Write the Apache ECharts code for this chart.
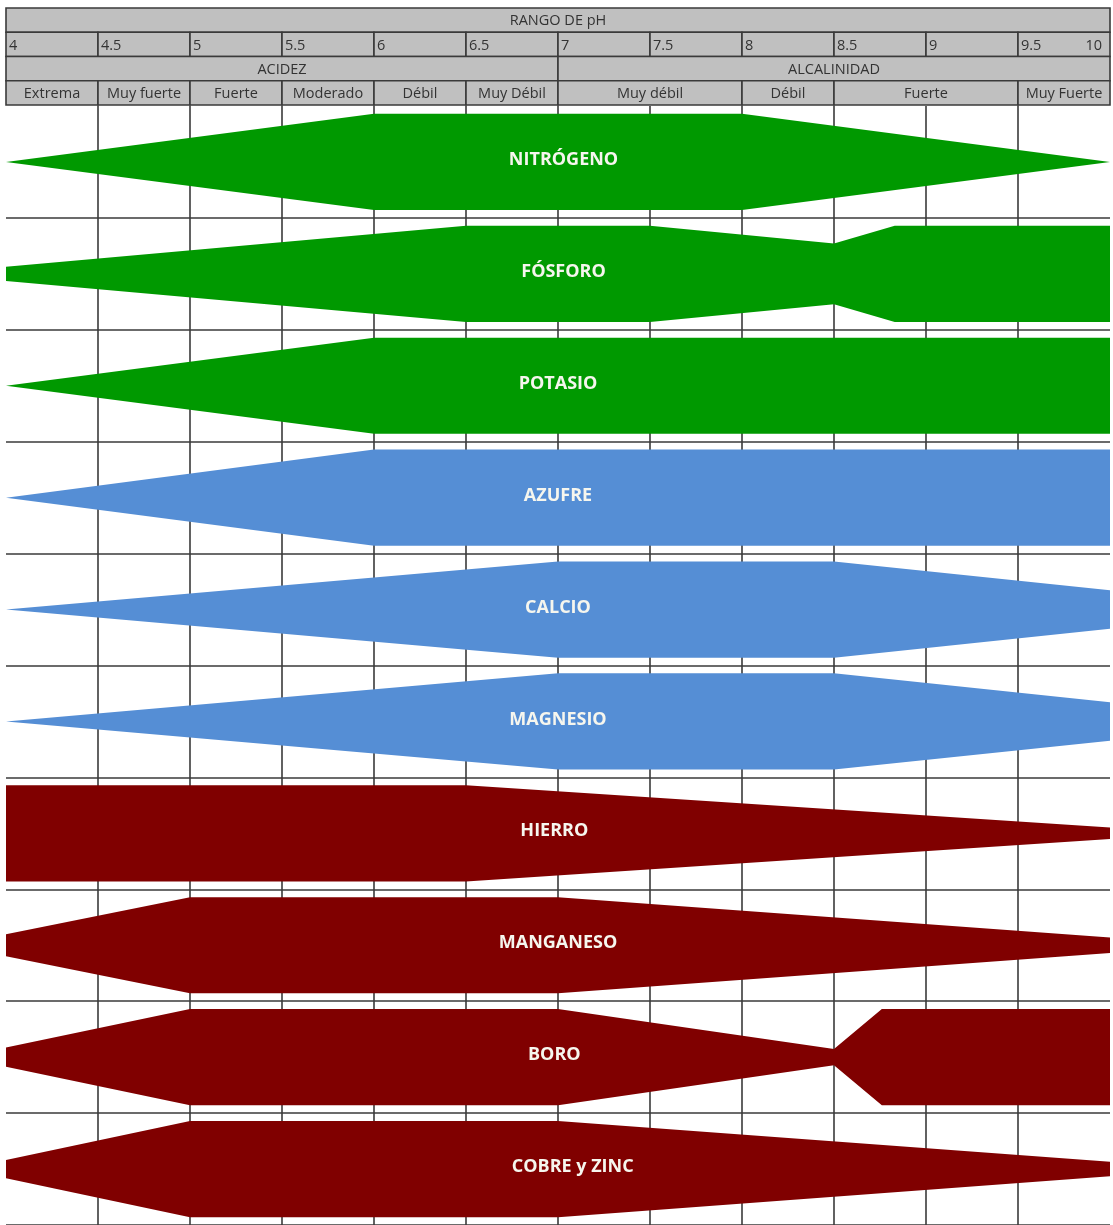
<!DOCTYPE html>
<html>
<head>
<meta charset="utf-8">
<script src="https://cdn.jsdelivr.net/npm/echarts@6/dist/echarts.min.js"></script>
<style>
  html, body { margin: 0; padding: 0; background: #ffffff; }
  #chart { width: 1113px; height: 1225px; }
</style>
</head>
<body>
<div id="chart"></div>
<script>
// ---------- Header data ----------
const headerTitle = 'RANGO DE pH';
const phLabels = ['4', '4.5', '5', '5.5', '6', '6.5', '7', '7.5', '8', '8.5', '9', '9.5'];
const phLastLabel = '10';
const zoneLabels = ['ACIDEZ', 'ALCALINIDAD'];
const zoneBounds = [4, 7, 10];
const classLabels = ['Extrema', 'Muy fuerte', 'Fuerte', 'Moderado', 'Débil', 'Muy Débil', 'Muy débil', 'Débil', 'Fuerte', 'Muy Fuerte'];
const classBounds = [4, 4.5, 5, 5.5, 6, 6.5, 7, 8, 8.5, 9.5, 10];

// ---------- Nutrient data (pH breakpoints and relative band thickness) ----------
const nutrientNames = ['NITRÓGENO', 'FÓSFORO', 'POTASIO', 'AZUFRE', 'CALCIO', 'MAGNESIO', 'HIERRO', 'MANGANESO', 'BORO', 'COBRE y ZINC'];
const nutrientGroups = ['macro', 'macro', 'macro', 'secondary', 'secondary', 'secondary', 'micro', 'micro', 'micro', 'micro'];
const labelPh = [7.03, 7.03, 7, 7, 7, 7, 6.98, 7, 6.98, 7.08];

const nitrogenPh = [4, 6, 8, 10];          const nitrogenWidth = [0, 1, 1, 0];
const phosphorusPh = [4, 6.5, 7.5, 8.5, 8.83, 10]; const phosphorusWidth = [0.15, 1, 1, 0.63, 1, 1];
const potassiumPh = [4, 6, 10];            const potassiumWidth = [0, 1, 1];
const sulfurPh = [4, 6, 10];               const sulfurWidth = [0, 1, 1];
const calciumPh = [4, 7, 8.5, 10];         const calciumWidth = [0, 1, 1, 0.4];
const magnesiumPh = [4, 7, 8.5, 10];       const magnesiumWidth = [0, 1, 1, 0.4];
const ironPh = [4, 6.5, 10];               const ironWidth = [1, 1, 0.12];
const manganesePh = [4, 5, 7, 10];         const manganeseWidth = [0.23, 1, 1, 0.16];
const boronPh = [4, 5, 7, 8.5, 8.76, 10];  const boronWidth = [0.2, 1, 1, 0.17, 1, 1];
const copperZincPh = [4, 5, 7, 10];        const copperZincWidth = [0.19, 1, 1, 0.15];

const profiles = [
  [nitrogenPh, nitrogenWidth], [phosphorusPh, phosphorusWidth], [potassiumPh, potassiumWidth],
  [sulfurPh, sulfurWidth], [calciumPh, calciumWidth], [magnesiumPh, magnesiumWidth],
  [ironPh, ironWidth], [manganesePh, manganeseWidth], [boronPh, boronWidth], [copperZincPh, copperZincWidth]
];

const groupColors = { macro: '#009900', secondary: '#558ed5', micro: '#800000' };
const HALF = 0.43; // max half-thickness in row units

// ---------- Build header cells ----------
const headerCells = [];
headerCells.push({ x0: 4, x1: 10, row: 0, label: headerTitle, align: 'center' });
phLabels.forEach((l, i) => headerCells.push({ x0: 4 + i * 0.5, x1: 4.5 + i * 0.5, row: 1, label: l, align: 'left' }));
headerCells.push({ x0: 9.5, x1: 10, row: 1, label: phLastLabel, align: 'right', textOnly: true });
zoneLabels.forEach((l, i) => headerCells.push({ x0: zoneBounds[i], x1: zoneBounds[i + 1], row: 2, label: l, align: 'center' }));
classLabels.forEach((l, i) => headerCells.push({ x0: classBounds[i], x1: classBounds[i + 1], row: 3, label: l, align: 'center' }));

const chart = echarts.init(document.getElementById('chart'), null, { renderer: 'canvas' });

const lineColor = '#3a3a3a';
const font = 'Open Sans';

const option = {
  animation: false,
  backgroundColor: '#ffffff',
  grid: [
    { left: 6, right: 3, top: 8, height: 97 },
    { left: 6, right: 3, top: 106, bottom: 0 }
  ],
  xAxis: [
    { gridIndex: 0, type: 'value', min: 4, max: 10, interval: 0.5, show: false },
    {
      gridIndex: 1, type: 'value', min: 4, max: 10, interval: 0.5,
      axisLine: { show: false }, axisTick: { show: false }, axisLabel: { show: false },
      splitLine: { show: true, showMinLine: false, showMaxLine: false, lineStyle: { color: lineColor, width: 1.6 } }
    }
  ],
  yAxis: [
    { gridIndex: 0, type: 'value', min: 0, max: 4, inverse: true, show: false },
    {
      gridIndex: 1, type: 'value', min: 0, max: 10, interval: 1, inverse: true,
      axisLine: { show: false }, axisTick: { show: false }, axisLabel: { show: false },
      splitLine: { show: true, showMinLine: false, lineStyle: { color: lineColor, width: 1.6 } }
    }
  ],
  series: [
    {
      type: 'custom',
      xAxisIndex: 0, yAxisIndex: 0,
      data: headerCells.map(c => [c.x0, c.row]),
      renderItem: function (params, api) {
        const c = headerCells[params.dataIndex];
        const p0 = api.coord([c.x0, c.row]);
        const p1 = api.coord([c.x1, c.row + 1]);
        const children = [];
        if (!c.textOnly) {
          children.push({
            type: 'rect',
            shape: { x: p0[0], y: p0[1], width: p1[0] - p0[0], height: p1[1] - p0[1] },
            style: { fill: '#c0c0c0', stroke: lineColor, lineWidth: 1.6 }
          });
        }
        let tx = (p0[0] + p1[0]) / 2;
        if (c.align === 'left') tx = p0[0] + 3;
        if (c.align === 'right') tx = p1[0] - 8;
        children.push({
          type: 'text',
          z2: 10,
          style: {
            text: c.label, x: tx, y: (p0[1] + p1[1]) / 2 + 1,
            align: c.align, verticalAlign: 'middle',
            fill: '#333333', fontFamily: font, fontSize: 14.5
          }
        });
        return { type: 'group', children: children };
      }
    },
    {
      type: 'custom',
      xAxisIndex: 1, yAxisIndex: 1,
      z: 5,
      data: nutrientNames.map((n, i) => [labelPh[i], i + 0.5]),
      renderItem: function (params, api) {
        const i = params.dataIndex;
        const phs = profiles[i][0];
        const ws = profiles[i][1];
        const mid = i + 0.5;
        const pts = [];
        for (let k = 0; k < phs.length; k++) pts.push(api.coord([phs[k], mid - ws[k] * HALF]));
        for (let k = phs.length - 1; k >= 0; k--) pts.push(api.coord([phs[k], mid + ws[k] * HALF]));
        const lp = api.coord([labelPh[i], mid]);
        return {
          type: 'group',
          children: [
            { type: 'polygon', shape: { points: pts }, style: { fill: groupColors[nutrientGroups[i]] } },
            {
              type: 'text', z2: 10,
              style: {
                text: nutrientNames[i], x: lp[0], y: lp[1] - 2,
                align: 'center', verticalAlign: 'middle',
                fill: '#f6f6ee', fontFamily: font, fontWeight: 'bold', fontSize: 18
              }
            }
          ]
        };
      }
    }
  ]
};

chart.setOption(option);
</script>
</body>
</html>
